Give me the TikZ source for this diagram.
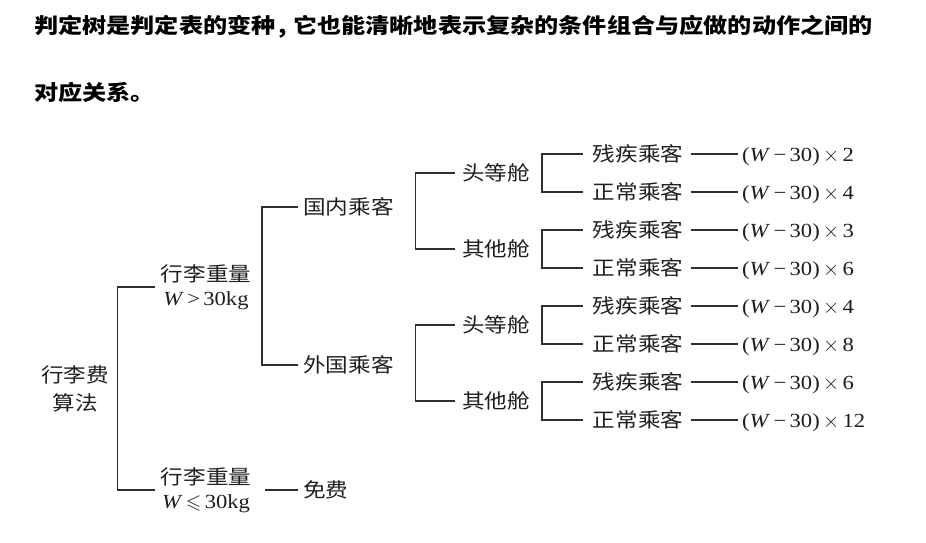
\documentclass[tikz,border=0pt]{standalone}
\usepackage{amssymb}
\usepackage{fontspec}
\setmainfont{Liberation Serif}[FakeStretch=1.13]
\newfontfamily\cjk{Noto Sans CJK SC}[FakeStretch=1.13]
\newfontfamily\headfont{Noto Sans CJK SC}[FakeStretch=1.15]
\definecolor{ink}{HTML}{1E1E1E}
\definecolor{wire}{HTML}{2E2E2E}
\newcommand{\charge}[1]{(\textit{W}\,−\,30)\,$\times$\,#1}
\begin{document}
\begin{tikzpicture}[x=1pt,y=-1pt,
  head/.style={inner sep=0pt,anchor=west,text=black,font=\headfont\bfseries\fontsize{21}{21}\selectfont},
  lbl/.style={inner sep=0pt,anchor=west,text=ink,text height=15.5pt,text depth=0pt,font=\cjk\fontsize{20}{25}\selectfont},
  res/.style={inner sep=0pt,anchor=west,text=ink,text height=15.5pt,text depth=0pt,font=\fontsize{20}{25}\selectfont},
  multi/.style={inner sep=0pt,align=center,text=ink,font=\fontsize{20}{24}\selectfont},
  br/.style={draw=wire,line width=1.2pt},
  leader/.style={draw=wire,line width=1.2pt,shorten <=7pt,shorten >=4pt}]
\useasboundingbox (0,0) rectangle (926,543);

% heading text
\node[head] (h1) at (34,26.5) {判定树是判定表的变种\makebox[17.5pt][l]{\hspace{3pt},}它也能清晰地表示复杂的条件组合与应做的动作之间的};
\node[head] (h2) at (34,92.5) {对应关系。};

% root and weight conditions
\node[multi,font=\cjk\fontsize{20}{28}\selectfont] (root) at (75,389) {行李费\\算法};
\node[multi] (w1) at (206,287) {{\cjk 行李重量}\\\textit{W}\,>\,30kg};
\node[multi] (w2) at (206,490) {{\cjk 行李重量}\\\textit{W}\,$\leqslant$\,30kg};
\node[lbl] (free) at (303,490) {免费};

% passenger origin
\node[lbl] (n1) at (303,207) {国内乘客};
\node[lbl] (n2) at (303,365) {外国乘客};

% cabin class
\node[lbl] (c1) at (462,173) {头等舱};
\node[lbl] (c2) at (462,249) {其他舱};
\node[lbl] (c3) at (462,325) {头等舱};
\node[lbl] (c4) at (462,401) {其他舱};

% passenger type
\node[lbl] (p1) at (592.7,154) {残疾乘客};
\node[lbl] (p2) at (592.7,192) {正常乘客};
\node[lbl] (p3) at (592.7,230) {残疾乘客};
\node[lbl] (p4) at (592.7,268) {正常乘客};
\node[lbl] (p5) at (592.7,306) {残疾乘客};
\node[lbl] (p6) at (592.7,344) {正常乘客};
\node[lbl] (p7) at (592.7,382) {残疾乘客};
\node[lbl] (p8) at (592.7,420) {正常乘客};

% charges
\node[res] (r1) at (742,154) {\charge{2}};
\node[res] (r2) at (742,192) {\charge{4}};
\node[res] (r3) at (742,230) {\charge{3}};
\node[res] (r4) at (742,268) {\charge{6}};
\node[res] (r5) at (742,306) {\charge{4}};
\node[res] (r6) at (742,344) {\charge{8}};
\node[res] (r7) at (742,382) {\charge{6}};
\node[res] (r8) at (742,420) {\charge{12}};

% bracket columns
\coordinate (j0) at (117.5,389);
\coordinate (j1) at (262,286);
\coordinate (j2a) at (415.5,210);
\coordinate (j2b) at (415.5,363);
\coordinate (j3a) at (542,173);
\coordinate (j3b) at (542,249);
\coordinate (j3c) at (542,325);
\coordinate (j3d) at (542,401);

% brackets
\draw[br,shorten <=6pt,shorten >=6pt] (w1.west) -| (j0) |- (w2.west);
\draw[br,shorten <=5pt,shorten >=5pt] (n1.west) -| (j1) |- (n2.west);
\draw[br,shorten <=7pt,shorten >=7pt] (c1.west) -| (j2a) |- (c2.west);
\draw[br,shorten <=7pt,shorten >=7pt] (c3.west) -| (j2b) |- (c4.west);
\draw[br,shorten <=10pt,shorten >=10pt] (p1.west) -| (j3a) |- (p2.west);
\draw[br,shorten <=10pt,shorten >=10pt] (p3.west) -| (j3b) |- (p4.west);
\draw[br,shorten <=10pt,shorten >=10pt] (p5.west) -| (j3c) |- (p6.west);
\draw[br,shorten <=10pt,shorten >=10pt] (p7.west) -| (j3d) |- (p8.west);

% leaders to the charges
\foreach \i in {1,...,8} \draw[leader] (p\i.east) -- (r\i.west);
\draw[br,shorten <=14pt,shorten >=5pt] (w2.east) -- (free.west);
\end{tikzpicture}
\end{document}
